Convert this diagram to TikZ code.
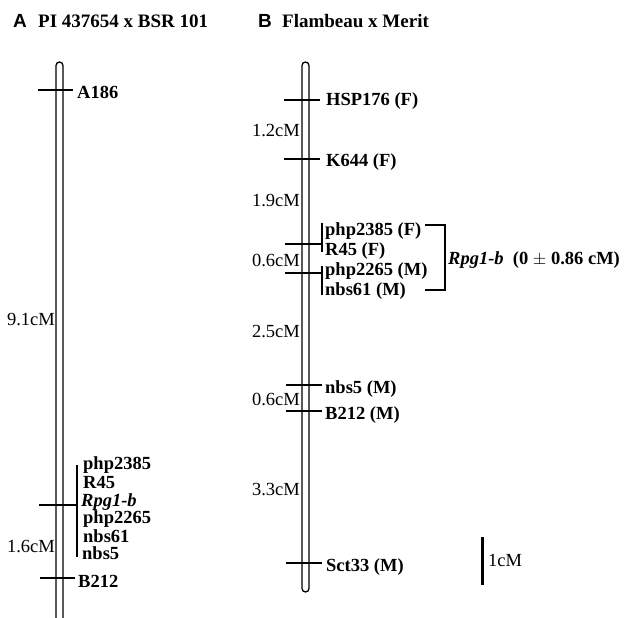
\documentclass[tikz,border=0pt]{standalone}
\usepackage{fontspec}
\setmainfont{Liberation Serif}
\newfontfamily\hdfont{Liberation Sans}
\begin{document}
\begin{tikzpicture}[x=1pt,y=-1pt,
  chrom/.style={line width=1.3pt, rounded corners=3.5pt},
  tk/.style={line width=1.3pt},
  mk/.style={anchor=base west, inner sep=0pt, font=\fontsize{18.5}{20}\selectfont\bfseries},
  dist/.style={anchor=base east, inner sep=0pt, font=\fontsize{18.5}{20}\selectfont},
  ttl/.style={anchor=base west, inner sep=0pt, font=\fontsize{19}{21}\selectfont\bfseries},
  panel/.style={anchor=base west, inner sep=0pt, font=\hdfont\fontsize{19}{21}\selectfont\bfseries}]
\useasboundingbox (0,0) rectangle (625,618);

% ---- titles
\node[panel] (pA) at (13,28) {A};
\node[ttl] (tA) at (38,28) {PI 437654 x BSR 101};
\node[panel] (pB) at (258,28) {B};
\node[ttl] (tB) at (282,28) {Flambeau x Merit};

% ---- chromosome A
\draw[chrom] (56,620) -- (56,62) -- (63,62) -- (63,620);
\draw[tk] (38,90) -- (73,90);
\node[mk] (a186) at (77,99) {A186};
\node[dist] (d91) at (55,325) {9.1cM};
\draw[tk] (77,465) -- (77,557);
\draw[tk] (39,505) -- (77,505);
\node[mk] (a1) at (83,469) {php2385};
\node[mk] (a2) at (83,488) {R45};
\node[mk] (a3) at (81,506) {\itshape Rpg1-b};
\node[mk] (a4) at (83,523) {php2265};
\node[mk] (a5) at (83,542) {nbs61};
\node[mk] (a6) at (82,559) {nbs5};
\node[dist] (d16) at (55,552) {1.6cM};
\draw[tk] (40,578) -- (75,578);
\node[mk] (ab212) at (78,587) {B212};

% ---- chromosome B
\draw[chrom] (302,62) rectangle (309,592);
\draw[tk] (284,100) -- (320,100);
\node[mk] (hsp) at (326,106) {HSP176 (F)};
\node[dist] (d12) at (300,137) {1.2cM};
\draw[tk] (284,159) -- (320,159);
\node[mk] (k644) at (326,167) {K644 (F)};
\node[dist] (d19) at (300,207) {1.9cM};
\draw[tk] (322,223) -- (322,252);
\draw[tk] (285,244) -- (322,244);
\node[mk] (b1) at (325,235) {php2385 (F)};
\node[mk] (b2) at (325,255) {R45 (F)};
\node[dist] (d06a) at (300,266) {0.6cM};
\draw[tk] (322,266) -- (322,295);
\draw[tk] (285,273) -- (322,273);
\node[mk] (b3) at (325,275) {php2265 (M)};
\node[mk] (b4) at (325,295) {nbs61 (M)};
\coordinate (bt) at (425,225);
\coordinate (bb) at (425,290);
\draw[tk] (bt) -- (445,225) -- (445,290) -- (bb);
\node[mk] (rpg) at (448,264) {\itshape Rpg1-b\upshape\ \ (0 $\pm$ 0.86 cM)};
\node[dist] (d25) at (300,337) {2.5cM};
\draw[tk] (286,385) -- (322,385);
\node[mk] (nbs5) at (325,393) {nbs5 (M)};
\node[dist] (d06b) at (300,405) {0.6cM};
\draw[tk] (286,411) -- (322,411);
\node[mk] (bb212) at (325,419) {B212 (M)};
\node[dist] (d33) at (300,495) {3.3cM};
\draw[tk] (286,563) -- (322,563);
\node[mk] (sct) at (326,571) {Sct33 (M)};

% ---- scale bar
\coordinate (s1) at (482,537);
\coordinate (s2) at (482,585);
\draw[line width=3pt] (s1) -- (s2);
\node[anchor=base west, inner sep=0pt, font=\fontsize{18.5}{20}\selectfont] (cm) at (488,566) {1cM};
\end{tikzpicture}
\end{document}
